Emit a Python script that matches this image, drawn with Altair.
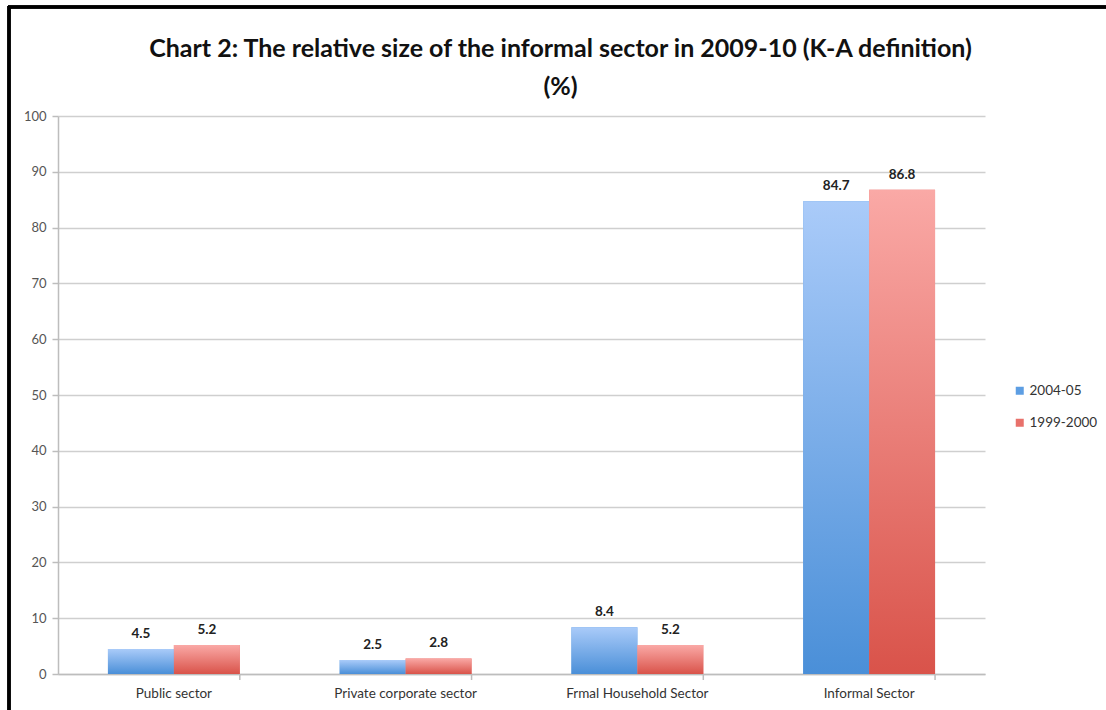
import altair as alt
import pandas as pd

categories = ["Public sector", "Private corporate sector", "Frmal Household Sector", "Informal Sector"]
series_names = ["2004-05", "1999-2000"]
values_2004 = [4.5, 2.5, 8.4, 84.7]
values_1999 = [5.2, 2.8, 5.2, 86.8]

rows = []
for c, v in zip(categories, values_2004):
    rows.append({"cat": c, "series": series_names[0], "value": v})
for c, v in zip(categories, values_1999):
    rows.append({"cat": c, "series": series_names[1], "value": v})
df = pd.DataFrame(rows)
cat_df = pd.DataFrame({"cat": categories})

W, H = 927, 558
FONT = "Lato"

x_enc = alt.X("cat:N", sort=categories, title=None,
              scale=alt.Scale(paddingInner=0.431, paddingOuter=0.2155),
              axis=alt.Axis(labelAngle=0, labelFontSize=13.5, labelColor="#333333",
                            labelFont=FONT, labelPadding=12, ticks=False,
                            domainColor="#bdbdbd", domainWidth=1.5, grid=False))
xoff = alt.XOffset("series:N", sort=series_names, scale=alt.Scale(paddingInner=0, paddingOuter=0))
y_enc = alt.Y("value:Q", title=None,
              scale=alt.Scale(domain=[0, 100], nice=False),
              axis=alt.Axis(values=list(range(0, 101, 10)), labelFontSize=13,
                            labelColor="#555555", labelFont=FONT, labelPadding=6,
                            tickSize=6, tickColor="#bdbdbd", tickWidth=1.5,
                            domainColor="#bdbdbd", domainWidth=1.5,
                            gridColor="#cfcfcf", gridWidth=1.5))

base = alt.Chart(df).mark_bar().encode(
    x=x_enc, xOffset=xoff, y=y_enc,
    color=alt.Color("series:N", sort=series_names, title=None,
                    scale=alt.Scale(domain=series_names, range=["#5d9ee3", "#e8716b"]),
                    legend=alt.Legend(orient="none", legendX=955, legendY=268,
                                      symbolType="square", symbolSize=64,
                                      symbolStrokeWidth=0, labelFontSize=13.5,
                                      labelFont=FONT, labelColor="#333333",
                                      rowPadding=17, labelOffset=3)),
)

def grad(top, bottom):
    return alt.Gradient(gradient="linear",
                        stops=[alt.GradientStop(color=top, offset=0),
                               alt.GradientStop(color=bottom, offset=1)],
                        x1=0, x2=0, y1=0, y2=1)

blue_bars = alt.Chart(df).transform_filter(alt.datum.series == series_names[0]).mark_bar(
    fill=grad("#aacbf9", "#4a8fd8")).encode(x=alt.X("cat:N", sort=categories), xOffset=alt.XOffset("series:N", sort=series_names), y="value:Q")
red_bars = alt.Chart(df).transform_filter(alt.datum.series == series_names[1]).mark_bar(
    fill=grad("#faa9a6", "#d9534a")).encode(x=alt.X("cat:N", sort=categories), xOffset=alt.XOffset("series:N", sort=series_names), y="value:Q")

labels = alt.Chart(df).mark_text(baseline="bottom", dy=-8, fontSize=13.5, fontWeight="bold",
                                 font=FONT, color="#222222").encode(
    x=alt.X("cat:N", sort=categories), xOffset=alt.XOffset("series:N", sort=series_names),
    y="value:Q", text=alt.Text("value:Q", format=".1f"))

xticks = alt.Chart(cat_df).mark_rule(color="#bdbdbd", strokeWidth=1.5).encode(
    x=alt.X("cat:N", sort=categories, bandPosition=1), y=alt.value(H), y2=alt.value(H + 6))

frame_left = alt.Chart(cat_df).mark_rule(color="black", strokeWidth=3).encode(
    x=alt.value(-49), y=alt.value(-110), y2=alt.value(600))
frame_top = alt.Chart(cat_df).mark_rule(color="black", strokeWidth=3).encode(
    y=alt.value(-109), x=alt.value(-50), x2=alt.value(1060))

chart = alt.layer(base, blue_bars, red_bars, labels, xticks, frame_left, frame_top).properties(
    width=W, height=H,
    background="white",
    title=alt.TitleParams(["Chart 2: The relative size of the informal sector in 2009-10 (K-A definition)", "(%)"],
                          fontSize=25, font=FONT, fontWeight="bold", color="#111111",
                          anchor="middle", dx=39, offset=-95, lineHeight=38),
    autosize=alt.AutoSizeParams(type="none"),
    padding={"left": 58, "top": 116, "right": 121, "bottom": 36},
).configure_view(stroke=None)

chart.save("out.html", embed_options={"renderer": "svg", "actions": False})
